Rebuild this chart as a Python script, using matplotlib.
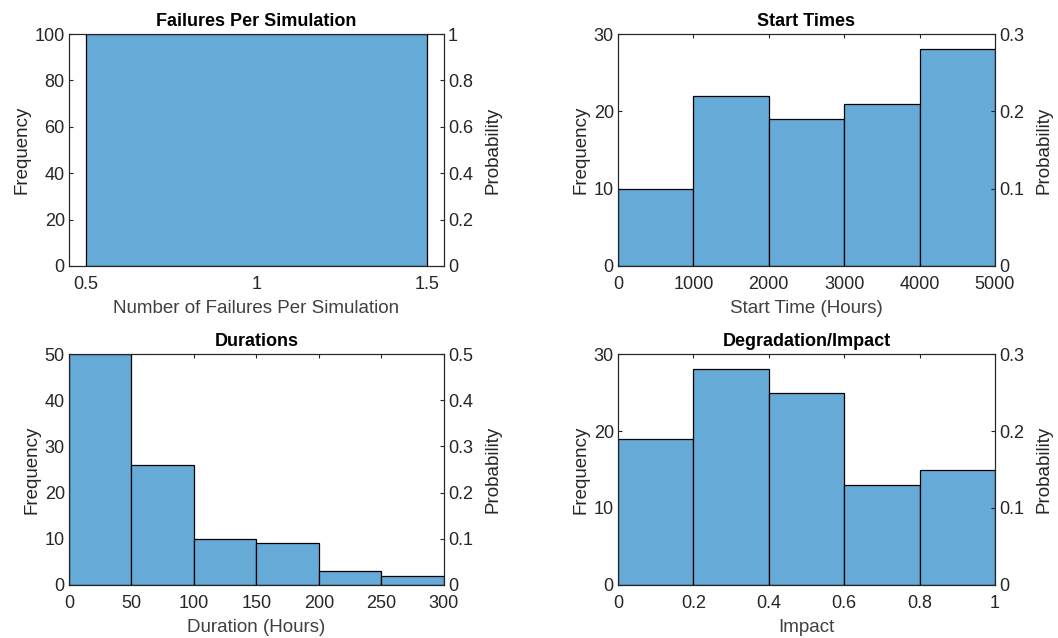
import numpy as np
import matplotlib
matplotlib.use("Agg")
import matplotlib.pyplot as plt
from matplotlib.ticker import FuncFormatter

plt.rcParams['font.family'] = ['Liberation Sans', 'DejaVu Sans']
plt.rcParams['font.size'] = 12

# histogram data
fail_edges = [0.5, 1.5]
fail_counts = [100]
start_edges = [0, 1000, 2000, 3000, 4000, 5000]
start_counts = [10, 22, 19, 21, 28]
dur_edges = [0, 50, 100, 150, 200, 250, 300]
dur_counts = [50, 26, 10, 9, 3, 2]
imp_edges = [0, 0.2, 0.4, 0.6, 0.8, 1.0]
imp_counts = [19, 28, 25, 13, 15]

AX_COL = '#262626'
BAR_COL = '#66aad7'


def fmt_g(v, pos):
    return '%g' % round(v, 6)


def hist_panel(rect, edges, counts, title, xlabel, xlim, xticks, ymax, ystep):
    ax = fig.add_axes(rect)
    edges = np.array(edges, dtype=float)
    ax.bar(edges[:-1], counts, width=np.diff(edges), align='edge',
           color=BAR_COL, edgecolor='black', linewidth=0.9, zorder=2)
    ax.set_xlim(*xlim)
    ax.set_ylim(0, ymax)
    ax.set_xticks(xticks)
    ax.set_yticks(np.arange(0, ymax + ystep / 2, ystep))
    ax.xaxis.set_major_formatter(FuncFormatter(fmt_g))
    ax.set_title(title, fontweight='bold', fontsize=13, color='black', pad=6)
    ax.set_xlabel(xlabel, fontsize=13.5, color='#404040', labelpad=5)
    ax.set_ylabel('Frequency', fontsize=13.5, color=AX_COL, labelpad=3)

    total = float(sum(counts))
    ax2 = ax.twinx()
    ax2.set_ylim(0, ymax / total)
    ax2.set_yticks(np.arange(0, ymax + ystep / 2, ystep) / total)
    ax2.yaxis.set_major_formatter(FuncFormatter(fmt_g))
    ax2.set_ylabel('Probability', fontsize=13.5, color=AX_COL, labelpad=8)

    for a in (ax, ax2):
        for s in a.spines.values():
            s.set_color(AX_COL)
            s.set_linewidth(0.8)
        a.tick_params(direction='in', length=3, width=0.8, colors=AX_COL,
                      labelsize=13, pad=3)
    ax.tick_params(axis='x', top=True, pad=7)
    return ax


fig = plt.figure(figsize=(10.58, 6.38), dpi=100)

hist_panel([0.0652, 0.5831, 0.3544, 0.3636], fail_edges, fail_counts,
           'Failures Per Simulation', 'Number of Failures Per Simulation',
           (0.45, 1.55), [0.5, 1, 1.5], 100, 20)
hist_panel([0.5841, 0.5831, 0.3563, 0.3636], start_edges, start_counts,
           'Start Times', 'Start Time (Hours)',
           (0, 5000), start_edges, 30, 10)
hist_panel([0.0652, 0.0831, 0.3544, 0.3620], dur_edges, dur_counts,
           'Durations', 'Duration (Hours)',
           (0, 300), dur_edges, 50, 10)
hist_panel([0.5841, 0.0831, 0.3563, 0.3620], imp_edges, imp_counts,
           'Degradation/Impact', 'Impact',
           (0, 1), imp_edges, 30, 10)

fig.savefig('out.png', dpi=100)
